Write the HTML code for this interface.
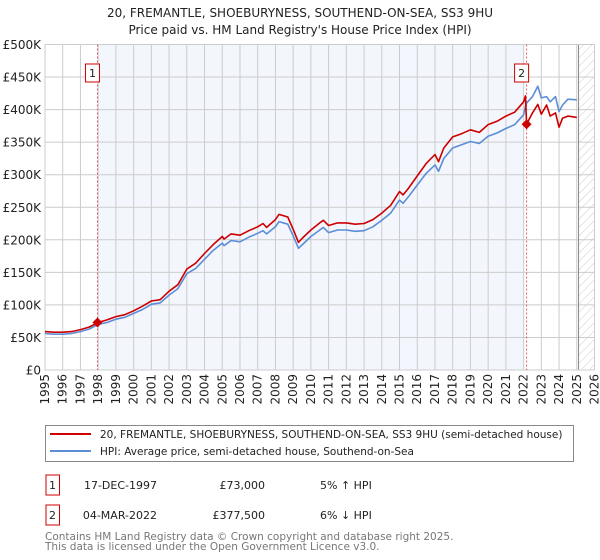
<!DOCTYPE html>
<html><head><meta charset="utf-8">
<style>
body{margin:0;background:#fff;font-family:"Liberation Sans","DejaVu Sans",sans-serif;}
#wrap{position:relative;width:600px;height:560px;overflow:hidden;}
svg text{font-family:"DejaVu Sans","Liberation Sans",sans-serif;}
</style></head>
<body><div id="wrap">
<svg id="chart" width="600" height="560"></svg>
</div>
<script>
const years=[1995,1995.5,1996,1996.5,1997,1997.5,1998,1998.5,1999,1999.5,2000,2000.5,2001,2001.5,2002,2002.5,2003,2003.5,2004,2004.5,2005,2005.1,2005.5,2006,2006.5,2007,2007.3,2007.5,2008,2008.2,2008.7,2009,2009.3,2009.5,2010,2010.5,2010.7,2011,2011.5,2012,2012.5,2013,2013.5,2014,2014.5,2015,2015.2,2015.5,2016,2016.5,2017,2017.2,2017.5,2018,2018.5,2019,2019.5,2020,2020.5,2021,2021.5,2022,2022.1,2022.17,2022.5,2022.8,2023,2023.3,2023.5,2023.8,2024,2024.2,2024.5,2025];
const hpiValues=[56,55,55,56,59,63,70,73,78,81,87,93,101,103,115,125,148,156,170,184,195,191,199,197,204,210,214,209,220,228,224,206,187,192,205,215,219,211,215,215,213,214,220,230,241,261,256,266,284,302,315,305,325,341,346,351,348,359,364,371,377,392,405,410,420,436,418,420,412,420,397,407,416,415];
const priceValues=[59,58,58,59,62,66,73,77,82,85,91,98,106,108,121,131,155,164,179,193,205,201,209,207,214,220,225,219,231,239,235,216,196,202,215,226,230,222,226,226,224,225,231,241,253,274,269,279,298,317,331,320,341,358,363,369,365,377,382,390,396,412,421,377.5,395,408,393,407,390,395,373,387,390,388];
const yTicks=[0,50,100,150,200,250,300,350,400,450,500];
const yTickLabels=["£0","£50K","£100K","£150K","£200K","£250K","£300K","£350K","£400K","£450K","£500K"];
const xTicks=[1995,1996,1997,1998,1999,2000,2001,2002,2003,2004,2005,2006,2007,2008,2009,2010,2011,2012,2013,2014,2015,2016,2017,2018,2019,2020,2021,2022,2023,2024,2025,2026];
const sales=[[1997.96,73,"1"],[2022.17,377.5,"2"]];

const L=45,R=594.5,T=44.5,B=370;
const X=y=>L+(y-1995)/(2026-1995)*(R-L);
const Y=v=>B-v/500*(B-T);
const svg=document.getElementById('chart');
const NS='http://www.w3.org/2000/svg';
function mk(tag,attrs,parent){const e=document.createElementNS(NS,tag);for(const k in attrs)e.setAttribute(k,attrs[k]);(parent||svg).appendChild(e);return e;}

const defs=mk('defs',{});
const pat=mk('pattern',{id:'hatch',width:6,height:6,patternUnits:'userSpaceOnUse',patternTransform:'rotate(45)'},defs);
mk('line',{x1:0,y1:0,x2:0,y2:6,stroke:'#ccc','stroke-width':1},pat);

let t=mk('text',{x:300,y:17,'text-anchor':'middle','font-size':12,fill:'#222'});t.textContent='20, FREMANTLE, SHOEBURYNESS, SOUTHEND-ON-SEA, SS3 9HU';

t=mk('text',{x:300,y:34,'text-anchor':'middle','font-size':12,fill:'#222'});t.textContent="Price paid vs. HM Land Registry's House Price Index (HPI)";


let r=mk('rect',{x:X(sales[0][0]),y:T,width:X(sales[1][0])-X(sales[0][0])-3,height:B-T,fill:'#f3f6fd'});

r=mk('rect',{x:X(2025.1),y:T,width:R-X(2025.1),height:B-T,fill:'url(#hatch)'});


yTicks.forEach((v,i)=>{
  const g=mk('line',{x1:L,x2:R,y1:Y(v),y2:Y(v),stroke:'#ccc','stroke-width':1});
  
  const tx=mk('text',{x:41,y:Y(v)+4.5,'text-anchor':'end','font-size':12,fill:'#222'});tx.textContent=yTickLabels[i];
  
});
xTicks.forEach(y=>{
  const g=mk('line',{x1:X(y),x2:X(y),y1:T,y2:B,stroke:'#ccc','stroke-width':1});
  
  const x=X(y)+4,yy=374;
  const tx=mk('text',{x:x,y:yy,'text-anchor':'end','font-size':12,fill:'#222',transform:`rotate(-90 ${x} ${yy})`});tx.textContent=y;
  
});
let ln=mk('line',{x1:X(2025.1),x2:X(2025.1),y1:T,y2:B,stroke:'#888','stroke-width':1});

r=mk('rect',{x:L,y:T,width:R-L,height:B-T,fill:'none',stroke:'#ccc'});


sales.forEach(s=>{
  const l=mk('line',{x1:X(s[0]),x2:X(s[0]),y1:T,y2:B,stroke:'#e06060','stroke-width':1,'stroke-dasharray':'2,2'});
  
});

function path(vals,color,name){
  const d=years.map((y,i)=>(i?'L':'M')+X(y).toFixed(1)+','+Y(vals[i]).toFixed(1)).join('');
  const p=mk('path',{d:d,fill:'none',stroke:color,'stroke-width':1.6,'stroke-linejoin':'round'});
  
}
path(hpiValues,'#5b8ed6','hpi-line');
path(priceValues,'#cc0000','price-paid-line');

sales.forEach(s=>{
  const cx=X(s[0]),cy=Y(s[1]);
  const d=mk('path',{d:`M${cx},${cy-5}L${cx+5},${cy}L${cx},${cy+5}L${cx-5},${cy}Z`,fill:'#cc0000'});
  
  const bx=mk('rect',{x:cx-12,y:64,width:14,height:18,fill:'#fff',stroke:'#cc0000'});
  
  const tx=mk('text',{x:cx-5,y:77,'text-anchor':'middle','font-size':11,fill:'#222'});tx.textContent=s[2];
  
});

// legend
r=mk('rect',{x:45.5,y:425.5,width:528,height:36,fill:'#fff',stroke:'#888'});

ln=mk('line',{x1:50,x2:91,y1:434,y2:434,stroke:'#cc0000','stroke-width':2});

t=mk('text',{x:100,y:438,'font-size':10.5,fill:'#222'});t.textContent='20, FREMANTLE, SHOEBURYNESS, SOUTHEND-ON-SEA, SS3 9HU (semi-detached house)';

ln=mk('line',{x1:50,x2:91,y1:451,y2:451,stroke:'#5b8ed6','stroke-width':2});

t=mk('text',{x:100,y:455,'font-size':10.5,fill:'#222'});t.textContent='HPI: Average price, semi-detached house, Southend-on-Sea';


// table
const rows=[["1","17-DEC-1997","£73,000","5% \u2191 HPI",475],["2","04-MAR-2022","£377,500","6% \u2193 HPI",505]];
rows.forEach(rw=>{
  const y0=rw[4];
  const b=mk('rect',{x:46,y:y0,width:13.5,height:20,fill:'none',stroke:'#cc0000'});
  
  let tx=mk('text',{x:52.5,y:y0+14,'text-anchor':'middle','font-size':11,fill:'#222'});tx.textContent=rw[0];
  
  tx=mk('text',{x:157,y:y0+14,'text-anchor':'end','font-size':11,fill:'#222'});tx.textContent=rw[1];
  
  tx=mk('text',{x:265,y:y0+14,'text-anchor':'end','font-size':11,fill:'#222'});tx.textContent=rw[2];
  
  tx=mk('text',{x:320,y:y0+14,'font-size':11,fill:'#222'});tx.textContent=rw[3];
  
});
t=mk('text',{x:45,y:540,'font-size':10.5,fill:'#777'});t.textContent='Contains HM Land Registry data © Crown copyright and database right 2025.';

t=mk('text',{x:45,y:550,'font-size':10.5,fill:'#777'});t.textContent='This data is licensed under the Open Government Licence v3.0.';

</script>
</body></html>
